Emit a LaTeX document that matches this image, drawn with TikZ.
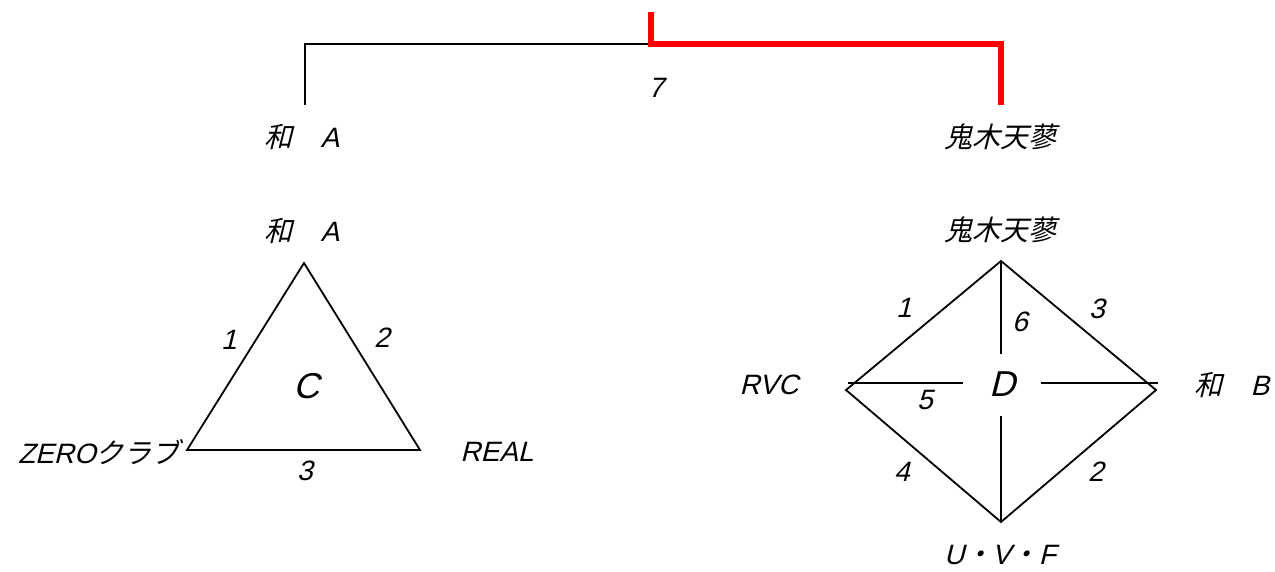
\documentclass[tikz,border=0pt]{standalone}
\usepackage{fontspec}
\setmainfont{Liberation Sans}[FakeSlant=0.25]
\newfontfamily\jp{Noto Sans CJK JP}[FakeSlant=0.25]
\begin{document}
\begin{tikzpicture}[x=1pt,y=-1pt,
  lbl/.style={font=\fontsize{28}{30}\selectfont, inner sep=0pt},
  big/.style={font=\fontsize{36}{38}\selectfont, inner sep=0pt},
  edge/.style={line width=1.8pt, line join=miter},
  axis/.style={line width=2.6pt},
  win/.style={draw=red, line width=6pt, line join=miter}]
\useasboundingbox (0,0) rectangle (1275,571);
% bracket
\coordinate (bl) at (305,105);
\coordinate (bm) at (651,44);
\coordinate (btop) at (651,12);
\coordinate (br) at (1001,105);
\node[lbl] (seven) at (656,88) {7};
\node[lbl] (topA) at (302,137) {{\jp 和　}A};
\node[lbl] (topK) at (1000,137) {\jp 鬼木天蓼};
\draw[line width=2.2pt] (bl) |- (bm);
\draw[win] (btop) -- (bm.center) -| (br);
% triangle C
\coordinate (tA) at (304,263);
\coordinate (tZ) at (187,450);
\coordinate (tR) at (420,450);
\draw[edge] (tA) -- (tZ) -- (tR) -- cycle;
\node[lbl] (lA) at (302,231) {{\jp 和　}A};
\node[lbl, anchor=east] (lZ) at (180,452) {ZERO{\jp クラブ}};
\node[lbl] (lR) at (497,452) {REAL};
\node[lbl] (e1) at (229,340) {1};
\node[lbl] (e2) at (382,338) {2};
\node[lbl] (e3) at (305,471) {3};
\node[big] (C) at (306,386) {C};
% diamond D
\coordinate (dT) at (1001,261);
\coordinate (dL) at (846,390);
\coordinate (dR) at (1156,390);
\coordinate (dB) at (1001,522);
\draw[edge] (dT) -- (dR) -- (dB) -- (dL) -- cycle;
\node[big] (D) at (1002,384) {D};
\coordinate (hL) at (848,383);
\coordinate (hLi) at (963,383);
\coordinate (hRi) at (1041,383);
\coordinate (hR) at (1158,383);
\coordinate (vTi) at (1001,354);
\coordinate (vBi) at (1001,416);
\draw[axis] (hL) -- (hLi);
\draw[axis] (hRi) -- (hR);
\draw[axis] (dT) -- (vTi);
\draw[axis] (vBi) -- (dB);
\node[lbl] (dlK) at (1000,230) {\jp 鬼木天蓼};
\node[lbl] (dlR) at (769,385) {RVC};
\node[lbl] (dlB) at (1232,385) {{\jp 和　}B};
\node[lbl] (dlU) at (1000,555) {U{\jp ・}V{\jp ・}F};
\node[lbl] (d1) at (904,308) {1};
\node[lbl] (d3) at (1097,309) {3};
\node[lbl] (d6) at (1020,322) {6};
\node[lbl] (d5) at (925,400) {5};
\node[lbl] (d4) at (902,472) {4};
\node[lbl] (d2) at (1096,472) {2};
\end{tikzpicture}
\end{document}
